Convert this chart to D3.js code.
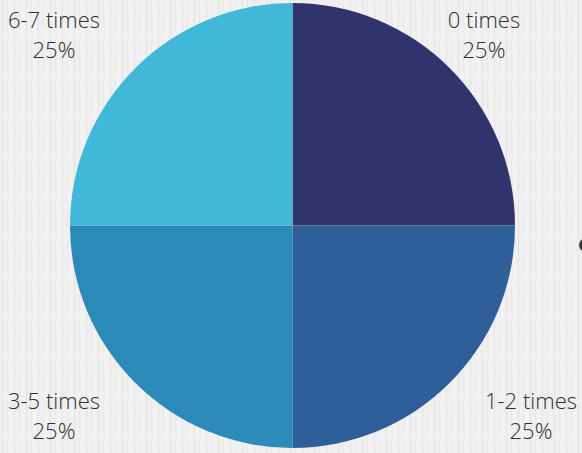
<!DOCTYPE html>
<html>
<head>
<meta charset="utf-8">
<script src="https://cdn.jsdelivr.net/npm/d3@7"></script>
<style>
  html, body { margin: 0; padding: 0; background: #efefef; }
  svg { display: block; }
  text { font-family: "Open Sans", sans-serif; }
</style>
</head>
<body>
<svg id="chart" width="582" height="453"></svg>
<script>
const categories = ["0 times", "1-2 times", "3-5 times", "6-7 times"];
const values = [25, 25, 25, 25];
const percentLabels = ["25%", "25%", "25%", "25%"];
const colors = ["#31346b", "#2e5f99", "#2b8ab8", "#42b8d8"];

const width = 582, height = 453;
const cx = 292.5, cy = 225.5, radius = 222.5;

const svg = d3.select("#chart");

// textured background (subtle vertical streaks)
const defs = svg.append("defs");
const pat = defs.append("pattern")
  .attr("id", "linen").attr("patternUnits", "userSpaceOnUse")
  .attr("width", 12).attr("height", 40);
pat.append("rect").attr("width", 12).attr("height", 40).attr("fill", "#f0f0f0");
pat.append("rect").attr("x", 2).attr("width", 1).attr("height", 40).attr("fill", "#e4e4e4");
pat.append("rect").attr("x", 7).attr("width", 1).attr("height", 28).attr("fill", "#e8e8e8");
pat.append("rect").attr("x", 10).attr("y", 12).attr("width", 1).attr("height", 28).attr("fill", "#f7f7f7");
svg.append("rect").attr("width", width).attr("height", height).attr("fill", "url(#linen)");

const data = categories.map((c, i) => ({ name: c, value: values[i], pct: percentLabels[i], color: colors[i] }));

const pie = d3.pie().sort(null).value(d => d.value);
const arc = d3.arc().innerRadius(0).outerRadius(radius);

const g = svg.append("g").attr("transform", `translate(${cx},${cy})`);
g.selectAll("path").data(pie(data)).join("path")
  .attr("d", arc)
  .attr("fill", d => d.data.color);

// labels at the corners
const labelPos = {
  "0 times": [484, 28],
  "1-2 times": [531, 409],
  "3-5 times": [54, 409],
  "6-7 times": [54, 28]
};
const lab = svg.append("g");
data.forEach(d => {
  const [x, y] = labelPos[d.name];
  lab.append("text").attr("x", x).attr("y", y)
    .attr("text-anchor", "middle").attr("font-size", 22).attr("font-weight", 300)
    .attr("fill", "#2e2e2e").text(d.name);
  lab.append("text").attr("x", x).attr("y", y + 30)
    .attr("text-anchor", "middle").attr("font-size", 22).attr("font-weight", 300)
    .attr("fill", "#2e2e2e").text(d.pct);
});

// partially visible marker at right edge
svg.append("circle").attr("cx", 586).attr("cy", 245).attr("r", 7).attr("fill", "#3a3a3a");
</script>
</body>
</html>
